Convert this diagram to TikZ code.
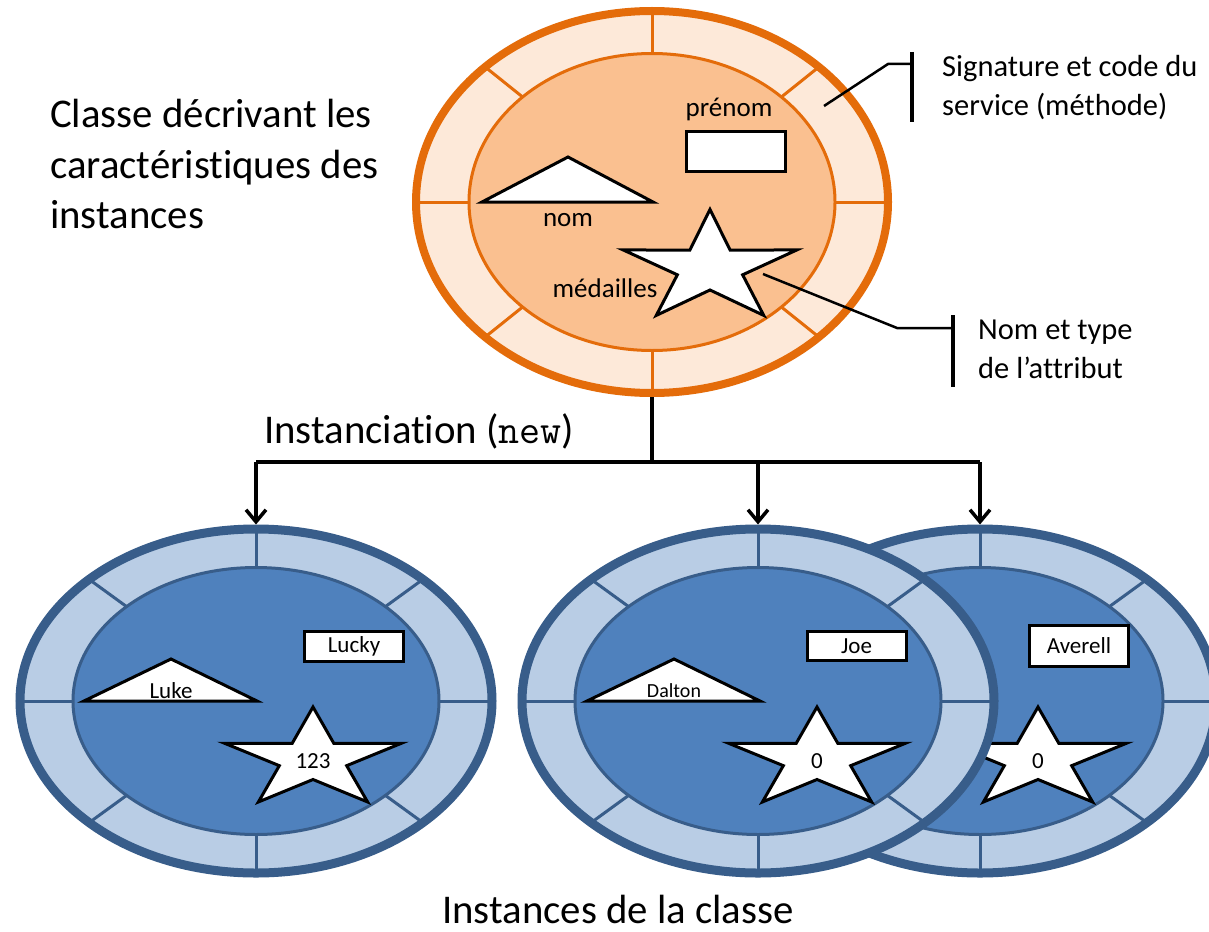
\documentclass[tikz,border=0pt]{standalone}
\usepackage{fontspec}
\setmainfont{Carlito}[Ligatures=NoCommon]
\usetikzlibrary{arrows.meta,positioning,calc,shapes.geometric}

\definecolor{clsline}{HTML}{E46C0A}
\definecolor{clsring}{HTML}{FDE9D9}
\definecolor{clscore}{HTML}{FAC090}
\definecolor{objline}{HTML}{385D8A}
\definecolor{objring}{HTML}{B9CDE5}
\definecolor{objcore}{HTML}{4F81BD}

\begin{document}
\begin{tikzpicture}[
    % GLOBAL CFG
    x=1pt, y=-1pt,
    >={Straight Barb[length=12pt,width=20pt]},
    % Styles
    clsshell/.style={% outer ring of the class
        ellipse,
        draw=clsline,
        fill=clsring,
        line width=8pt,
        minimum width=472pt,
        minimum height=382pt,
        inner sep=0pt,
        },
    objshell/.style={% outer ring of an instance
        ellipse,
        draw=objline,
        fill=objring,
        line width=9pt,
        minimum width=472pt,
        minimum height=344pt,
        inner sep=0pt,
        },
    slot/.style={% white attribute boxes
        rectangle,
        draw,
        fill=white,
        line width=3pt,
        minimum width=99pt,
        inner sep=0pt,
        },
    shapeline/.style={draw=black, fill=white, line width=3pt},
    link/.style={line width=4pt},
    pointer/.style={line width=3.5pt, ->},
    callout/.style={line width=2.5pt},
    bar/.style={line width=3.5pt},
    bigtext/.style={font=\fontsize{40.8}{50.5}\selectfont, align=left, inner sep=0pt},
    notetext/.style={font=\fontsize{30.5}{39}\selectfont, align=left, inner sep=0pt},
    attr/.style={font=\fontsize{27}{30}\selectfont, inner sep=0pt},
    value/.style={font=\fontsize{23}{26}\selectfont, inner sep=0pt},
    pics/medal/.style 2 args={code={% five point star, stretched by the caller
        \draw[shapeline] (-90:#1) \foreach \k in {1,...,9}{ -- ({-90+36*\k}:{ifthenelse(mod(\k,2)==1,#2,#1)}) } -- cycle;
        }},
    ]

    \useasboundingbox (0,0) rectangle (1209,931);
    \clip (0,0) rectangle (1209,931);
    \fill[white] (0,0) rectangle (1209,931);

    % The class
    \node[clsshell] (cls) at (652,202) {};
    \draw[clsline, fill=clscore, line width=3pt] (cls.center) ellipse (183 and 148.5);
    \foreach \a in {0,45,...,315}
        \draw[clsline, line width=3pt] ($(cls.center)+({183*cos(\a)},{148.5*sin(\a)})$) -- ($(cls.center)+({236*cos(\a)},{191*sin(\a)})$);

    \node[slot, minimum height=40pt] (prenombox) at (736,151.5) {};
    \node[attr, anchor=base] (prenom) at (729,117) {prénom};
    \draw[shapeline] (482,202) -- (568,157) -- (653,202) -- cycle; % nom
    \node[attr, anchor=base] (nom) at (568,226) {nom};
    \pic[xscale=1.56] at (710,268) {medal={58.6}{22}};
    \node[attr, anchor=base] (medailles) at (605,297) {médailles};

    % Callouts
    \coordinate (sigpt) at (824,106);
    \coordinate (sigbar) at (912,64);
    \draw[callout] (sigpt) -- (888,64) -- (sigbar);
    \draw[bar] ($(sigbar)+(0,-12)$) -- ($(sigbar)+(0,58)$);
    \node[notetext, anchor=north west] (sigtext) at (942,55) {Signature et code du\\service (méthode)};

    \coordinate (medpt) at (763,274);
    \coordinate (medbar) at (953,328);
    \draw[callout] (medpt) -- (897,328) -- (medbar);
    \draw[bar] ($(medbar)+(0,-13)$) -- ($(medbar)+(0,59)$);
    \node[notetext, anchor=north west] (nomtext) at (978,320) {Nom et type\\de l’attribut};

    % Third instance (behind the second one)
    \node[objshell] (inst3) at (980,701) {};
    \draw[objline, fill=objcore, line width=3pt] (inst3.center) ellipse (183 and 133.5);
    \foreach \a in {0,45,...,315}
        \draw[objline, line width=3pt] ($(inst3.center)+({183*cos(\a)},{133.5*sin(\a)})$) -- ($(inst3.center)+({236*cos(\a)},{172*sin(\a)})$);
    \node[slot, minimum height=41pt, value] (averellbox) at (1079,646) {Averell};
    \pic[xscale=1.77] at (1038,759.5) {medal={52.5}{20}};
    \node[value] (medals3) at (1038,761) {0};

    % First instance
    \node[objshell] (inst1) at (256,701) {};
    \draw[objline, fill=objcore, line width=3pt] (inst1.center) ellipse (183 and 133.5);
    \foreach \a in {0,45,...,315}
        \draw[objline, line width=3pt] ($(inst1.center)+({183*cos(\a)},{133.5*sin(\a)})$) -- ($(inst1.center)+({236*cos(\a)},{172*sin(\a)})$);
    \node[slot, minimum height=30pt, value] (luckybox) at (354,646.5) {Lucky};
    \draw[shapeline] (84,701) -- (171,659) -- (257,701) -- cycle;
    \node[value, anchor=base] (luke) at (171,698) {Luke};
    \pic[xscale=1.77] at (313,759.5) {medal={52.5}{20}};
    \node[value] (medals1) at (313,761) {123};

    % Second instance
    \node[objshell] (inst2) at (758,701) {};
    \draw[objline, fill=objcore, line width=3pt] (inst2.center) ellipse (183 and 133.5);
    \foreach \a in {0,45,...,315}
        \draw[objline, line width=3pt] ($(inst2.center)+({183*cos(\a)},{133.5*sin(\a)})$) -- ($(inst2.center)+({236*cos(\a)},{172*sin(\a)})$);
    \node[slot, minimum height=29pt, value] (joebox) at (856.5,646) {Joe};
    \draw[shapeline] (587,701) -- (674,659) -- (760,701) -- cycle;
    \node[value, font=\fontsize{20}{22}\selectfont, anchor=base] (dalton) at (674,697) {Dalton};
    \pic[xscale=1.77] at (817,759.5) {medal={52.5}{20}};
    \node[value] (medals2) at (817,761) {0};

    % Instanciation
    \coordinate (split) at (652,462);
    \draw[link] (cls.south) -- (split);
    \draw[link] (split -| inst1.north) -- (split -| inst3.north);
    \foreach \n in {inst1,inst2,inst3}
        \draw[pointer] (split -| \n.north) -- (\n.north);

    % Texts
    \node[bigtext, anchor=north west] (clstitle) at (50,99) {Classe décrivant les\\caractéristiques des\\instances};
    \node[bigtext, anchor=base west] (newlabel) at (264,443) {Instanciation (\texttt{new})};
    \node[bigtext, anchor=base] (objtitle) at (618,923) {Instances de la classe};

\end{tikzpicture}
\end{document}
